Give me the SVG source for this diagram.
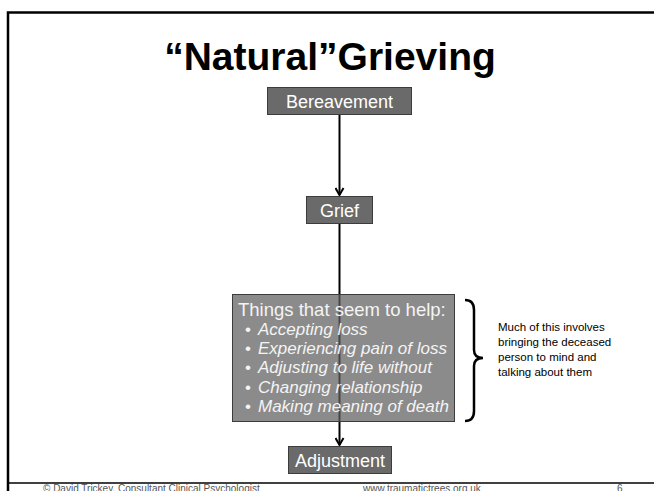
<svg xmlns="http://www.w3.org/2000/svg" width="654" height="491" viewBox="0 0 654 491">
  <style>
    .frame { stroke: #000; fill: none; }
    .node rect { fill: #6a6a6a; stroke: #3c3c3c; stroke-width: 1; }
    .node text { font-family: "Liberation Sans", Arial, sans-serif; font-size: 18px; fill: #ffffff; text-anchor: middle; }
    .conn { stroke: #000; stroke-width: 2; fill: none; }
    .help-title { font-family: "Liberation Sans", Arial, sans-serif; font-size: 18.5px; fill: #f4f4f4; }
    .help-item { font-family: "Liberation Sans", Arial, sans-serif; font-size: 17px; font-style: italic; fill: #f4f4f4; }
    .bullet { font-family: "Liberation Sans", Arial, sans-serif; font-size: 17px; fill: #f4f4f4; }
    .note { font-family: "Liberation Sans", Arial, sans-serif; font-size: 11.5px; fill: #000; }
    .footer { font-family: "Liberation Sans", Arial, sans-serif; font-size: 10px; fill: #555; }
  </style>
  <defs>
    <!-- open chevron arrowhead -->
    <marker id="arrow" viewBox="0 0 10 10" refX="9" refY="5" markerWidth="10" markerHeight="10" markerUnits="userSpaceOnUse" orient="auto">
      <path d="M2,1 L9,5 L2,9" stroke="#000" stroke-width="2" fill="none"/>
    </marker>
  </defs>

  <rect width="654" height="491" fill="#ffffff"/>

  <!-- slide frame -->
  <g id="frame">
    <path class="frame" d="M8,491 V12.5 H654" stroke-width="2.5"/>
    <line class="frame" x1="8" y1="483" x2="654" y2="483" stroke-width="1.5"/>
  </g>

  <!-- title -->
  <text x="330" y="70" font-family="'Liberation Sans', Arial, sans-serif" font-size="39" font-weight="bold" text-anchor="middle" fill="#000">“Natural”Grieving</text>

  <!-- connectors -->
  <g id="connectors">
    <line class="conn" x1="339.5" y1="114" x2="339.5" y2="195" marker-end="url(#arrow)"/>
    <line class="conn" x1="339.5" y1="224" x2="339.5" y2="445" marker-end="url(#arrow)"/>
  </g>

  <g id="bereavement" class="node">
    <rect x="267.5" y="87.5" width="144" height="27"/>
    <text x="339.5" y="107.5">Bereavement</text>
  </g>

  <g id="grief" class="node">
    <rect x="306.5" y="196.5" width="66" height="27"/>
    <text x="339.5" y="216.5">Grief</text>
  </g>

  <g id="helpers">
    <rect x="232.5" y="294.5" width="222" height="127" fill="#606060" fill-opacity="0.73" stroke="#3c3c3c" stroke-width="1"/>
    <text class="help-title" x="238" y="316">Things that seem to help:</text>
    <text class="bullet" x="245" y="335">•</text><text class="help-item" x="258" y="335">Accepting loss</text>
    <text class="bullet" x="245" y="354">•</text><text class="help-item" x="258" y="354">Experiencing pain of loss</text>
    <text class="bullet" x="245" y="373">•</text><text class="help-item" x="258" y="373">Adjusting to life without</text>
    <text class="bullet" x="245" y="393">•</text><text class="help-item" x="258" y="393">Changing relationship</text>
    <text class="bullet" x="245" y="412">•</text><text class="help-item" x="258" y="412">Making meaning of death</text>
  </g>

  <g id="adjustment" class="node">
    <rect x="288.5" y="446.5" width="103" height="27"/>
    <text x="340" y="466.5">Adjustment</text>
  </g>

  <!-- brace and note -->
  <g id="note">
    <path d="M465,300 Q474,300 474,310 V350 Q474,358 483,358 Q474,358 474,366 V411 Q474,421 465,421" stroke="#000" stroke-width="2.5" fill="none"/>
    <text class="note" x="498" y="331">Much of this involves</text>
    <text class="note" x="498" y="346">bringing the deceased</text>
    <text class="note" x="498" y="361">person to mind and</text>
    <text class="note" x="498" y="376">talking about them</text>
  </g>

  <!-- footer -->
  <g id="footer">
    <text class="footer" x="43" y="492">© David Trickey, Consultant Clinical Psychologist</text>
    <text class="footer" x="363" y="492">www.traumatictrees.org.uk</text>
    <text class="footer" x="617" y="492">6</text>
  </g>
</svg>
